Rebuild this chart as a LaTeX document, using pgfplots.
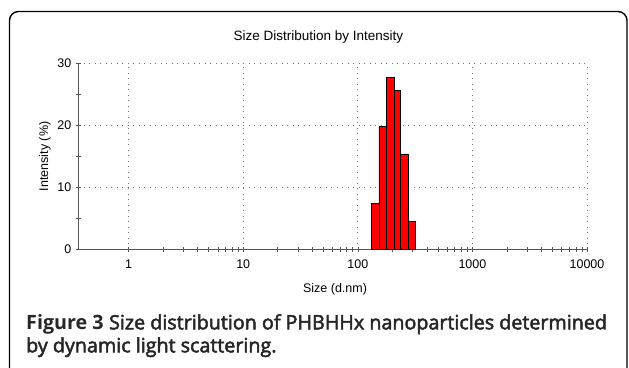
\documentclass[border=0pt]{standalone}
\usepackage{fontspec}
\setmainfont{Liberation Sans}
\newfontfamily\capfont{Open Sans}
\newfontfamily\capsemi[UprightFeatures={FakeBold=2.5}]{Open Sans}
\usepackage{pgfplots}
\pgfplotsset{compat=1.18}
\definecolor{axgray}{HTML}{555555}
\definecolor{gridgray}{HTML}{707070}
\definecolor{barred}{HTML}{FF0000}
\begin{document}
\begin{tikzpicture}[x=1bp,y=1bp]
\useasboundingbox (0,0) rectangle (629,367);
\draw[line width=1.4bp, rounded corners=9bp] (9.5,-20) -- (9.5,355.5) -- (627,355.5) -- (627,-20);
\node[anchor=center, font=\fontsize{13.5bp}{16bp}\selectfont] at (318.3,330) {Size Distribution by Intensity};
\begin{axis}[
  at={(78.3bp,117.5bp)}, anchor=south west,
  scale only axis, width=508.7bp, height=186.2bp,
  xmode=log, xmin=0.364, xmax=10000,
  ymin=0, ymax=30,
  axis x line=bottom, axis y line=left,
  axis line style={-, axgray, line width=0.6bp},
  xtick={1,10,100,1000,10000},
  xticklabels={1,10,100,1000,10000},
  minor xtick={2,3,4,5,6,7,8,9,20,30,40,50,60,70,80,90,200,300,400,500,600,700,800,900,2000,3000,4000,5000,6000,7000,8000,9000},
  ytick={0,10,20,30}, yticklabels={0,10,20,30},
  minor ytick={5,15,25},
  tick align=center,
  major tick length=5bp, minor tick length=5bp,
  every tick/.style={axgray, line width=0.5bp},
  xmajorgrids, ymajorgrids,
  major grid style={gridgray, line width=0.9bp, dash pattern=on 0.9bp off 4.6bp},
  tick label style={font=\fontsize{12.5bp}{15bp}\selectfont, black},
  xticklabel style={yshift=-4bp},
  yticklabel style={xshift=-1bp},
  xlabel={Size (d.nm)}, ylabel={Intensity (\%)},
  label style={font=\fontsize{12.5bp}{15bp}\selectfont},
  xlabel style={at={(rel axis cs:0.5,0)}, anchor=center, yshift=-39.5bp, xshift=2.4bp},
  ylabel style={at={(rel axis cs:0,0.5)}, anchor=center, xshift=0bp, yshift=33.3bp},
  clip=false,
]
\addplot[ybar interval, fill=barred, draw=black, line width=0.5bp] coordinates {
  (132,7.4) (152.5,19.8) (177.5,27.7) (206,25.6) (236,15.4) (275,4.5) (318,0)
};
\end{axis}
\node[anchor=base west, inner sep=0pt, font=\fontsize{19.7bp}{23bp}\selectfont, color=black!85] at (26,37.7) {{\capfont\bfseries Figure 3} \capsemi Size distribution of PHBHHx nanoparticles determined};
\node[anchor=base west, inner sep=0pt, font=\capsemi\fontsize{19.7bp}{23bp}\selectfont, color=black!85] at (26,14.7) {by dynamic light scattering.};
\end{tikzpicture}
\end{document}
